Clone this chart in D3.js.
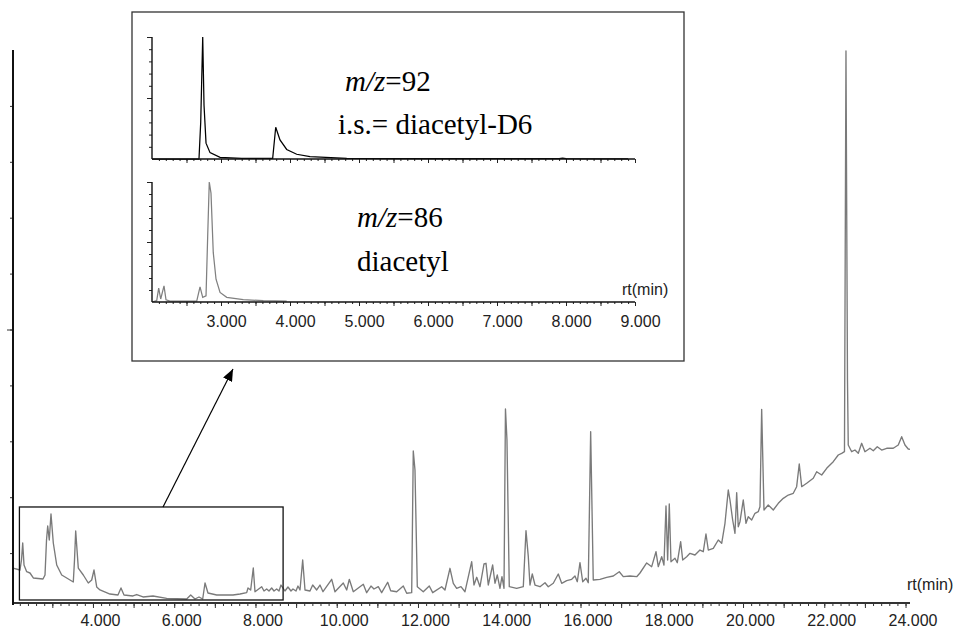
<!DOCTYPE html>
<html><head><meta charset="utf-8">
<script src="https://cdn.jsdelivr.net/npm/d3@7"></script>
<style>body{margin:0;background:#fff}svg{display:block}</style>
</head><body>
<svg id="c" width="954" height="628"></svg>
<script>
// ---- DATA ----
// Total ion chromatogram: [retention time (min), abundance (% of max)]
const mainTrace = [[2.032,7.33],[2.204,6.98],[2.241,8.77],[2.271,11.81],[2.303,7.87],[2.369,6.67],[2.450,6.44],[2.532,5.55],[2.770,5.37],[2.820,6.08],[2.857,12.34],[2.886,14.85],[2.925,12.34],[2.967,16.99],[3.024,11.81],[3.108,7.87],[3.231,6.08],[3.354,5.55],[3.516,4.83],[3.546,8.77],[3.575,13.95],[3.639,7.33],[3.762,6.08],[3.885,4.65],[3.969,5.19],[4.026,6.98],[4.092,3.94],[4.173,3.40],[4.419,2.68],[4.616,2.50],[4.690,3.76],[4.764,2.50],[4.985,2.33],[5.077,2.59],[5.232,2.15],[5.478,2.33],[5.815,1.91],[6.307,1.79],[6.406,2.50],[6.511,1.79],[6.610,2.15],[6.701,1.79],[6.758,4.65],[6.831,2.86],[7.046,2.50],[7.447,2.50],[7.619,2.68],[7.784,2.92],[7.816,3.76],[7.882,3.40],[7.946,7.33],[7.988,3.09],[8.153,3.99],[8.210,3.22],[8.276,3.58],[8.333,3.22],[8.399,3.76],[8.456,3.22],[8.522,3.58],[8.579,3.22],[8.628,4.29],[8.726,3.22],[8.800,3.94],[8.874,3.22],[8.923,3.58],[8.997,3.22],[9.046,4.11],[9.096,3.40],[9.162,8.77],[9.219,3.40],[9.342,3.22],[9.408,4.29],[9.507,3.40],[9.588,4.29],[9.662,3.09],[9.876,5.31],[9.957,3.09],[10.161,4.65],[10.245,3.40],[10.309,5.31],[10.408,3.09],[10.654,4.42],[10.737,2.92],[10.843,4.11],[10.917,3.58],[11.023,3.99],[11.106,2.92],[11.254,4.78],[11.328,3.27],[11.476,3.09],[11.638,4.11],[11.722,2.81],[11.845,2.92],[11.884,28.26],[11.926,24.87],[11.983,3.99],[12.130,3.09],[12.278,4.11],[12.362,2.92],[12.583,3.99],[12.664,3.40],[12.787,7.28],[12.869,4.60],[12.952,3.70],[13.058,3.99],[13.157,3.09],[13.322,8.46],[13.378,4.29],[13.445,5.67],[13.526,3.99],[13.624,8.05],[13.674,8.18],[13.730,4.29],[13.838,7.87],[13.895,4.60],[13.952,6.08],[14.018,3.70],[14.067,5.78],[14.117,3.70],[14.153,35.78],[14.190,30.23],[14.247,3.99],[14.429,3.70],[14.592,3.99],[14.658,14.01],[14.715,9.36],[14.756,4.29],[14.813,6.26],[14.880,4.29],[15.003,3.99],[15.126,4.70],[15.207,3.99],[15.330,4.60],[15.453,6.26],[15.537,4.60],[15.660,5.06],[15.783,5.31],[15.864,5.90],[15.921,4.88],[15.987,8.28],[16.054,4.88],[16.135,5.49],[16.191,4.70],[16.250,31.72],[16.314,5.19],[16.479,5.31],[16.644,5.67],[16.807,5.90],[16.954,6.67],[17.053,5.78],[17.218,5.90],[17.383,5.78],[17.464,6.44],[17.629,8.23],[17.752,7.57],[17.858,10.25],[17.914,7.57],[17.998,9.36],[18.054,7.87],[18.104,18.43],[18.145,8.77],[18.185,18.78],[18.227,8.46],[18.325,9.07],[18.382,8.28],[18.465,12.04],[18.515,8.77],[18.613,9.36],[18.694,9.96],[18.817,9.66],[18.940,10.55],[19.022,10.25],[19.088,13.42],[19.145,10.55],[19.268,10.86],[19.391,12.34],[19.475,11.75],[19.556,15.33],[19.637,21.29],[19.679,19.50],[19.745,15.92],[19.802,13.54],[19.844,20.80],[19.883,14.72],[19.925,15.62],[20.006,19.50],[20.073,15.33],[20.129,16.51],[20.213,15.92],[20.294,17.12],[20.375,17.41],[20.417,18.30],[20.459,35.72],[20.516,17.71],[20.621,18.60],[20.745,17.71],[20.868,18.91],[20.991,19.80],[21.114,20.39],[21.237,20.70],[21.320,21.88],[21.384,25.94],[21.444,21.88],[21.567,22.49],[21.729,23.38],[21.813,24.56],[21.936,23.97],[22.059,25.17],[22.221,26.35],[22.344,27.55],[22.428,27.85],[22.497,28.14],[22.534,99.82],[22.571,40.97],[22.590,29.34],[22.674,28.14],[22.755,28.44],[22.837,27.85],[22.920,29.64],[23.001,28.14],[23.124,28.75],[23.206,28.32],[23.304,29.03],[23.412,28.44],[23.536,28.75],[23.698,28.75],[23.821,29.34],[23.905,30.82],[23.986,29.34],[24.067,28.62],[24.109,28.57]];

// Inset: m/z 92 (i.s. diacetyl-D6), [rt (min), relative abundance %]
const traceMz92 = [[2.000,0],[2.681,0],[2.706,30],[2.735,100],[2.754,44],[2.783,13],[2.841,5.2],[2.986,1.3],[3.300,0.5],[3.749,0.5],[3.793,26],[3.855,15.6],[3.952,7.8],[4.097,3.9],[4.290,1.9],[4.822,0.6],[6.000,0.3],[7.900,0.4],[7.950,0.8],[8.000,0.3],[8.900,0.2]];
// Inset: m/z 86 (diacetyl)
const traceMz86 = [[2.010,0.2],[2.068,1.1],[2.097,11.6],[2.126,2.5],[2.174,13.5],[2.203,1.9],[2.261,0.8],[2.648,0.8],[2.696,12.6],[2.735,3.9],[2.783,5.2],[2.807,54.8],[2.830,100],[2.855,90.7],[2.888,41.1],[2.928,19.0],[2.986,8.0],[3.083,3.9],[3.323,1.9],[3.613,1.1],[3.952,0.8]];

const mainXLabels = [4,6,8,10,12,14,16,18,20,22,24];
const insetXLabels = [3,4,5,6,7,8,9];
const zoomTimes = [2.19, 8.68];     // region magnified in the inset
const zoomAbund = [1.61, 18.25];
const axisTitle = "rt(min)";
const topLabels = ["=92", "i.s.= diacetyl-D6"];
const botLabels = ["=86", "diacetyl"];

// ---- DRAW ----
const svg = d3.select("#c");
const sans = "'Liberation Sans', Arial, sans-serif";
const serif = "'Liberation Serif', 'Times New Roman', serif";

// main scales
const x = d3.scaleLinear().domain([2, 24.1]).range([11.7, 909.6]);
const y = d3.scaleLinear().domain([0, 100]).range([609, 50]);
const axisY = 603;

// main trace
svg.append("path").datum(mainTrace)
  .attr("d", d3.line().x(d => x(d[0])).y(d => y(d[1])))
  .attr("fill", "none").attr("stroke", "#7a7a7a").attr("stroke-width", 1.35)
  .attr("stroke-linejoin", "round");

// main x axis
const minorT = d3.range(11, 121).map(i => i / 5).filter(v => v <= 24.01);
const majorT = d3.range(3, 25);
const gx = svg.append("g").attr("transform", `translate(0,${axisY})`);
gx.call(d3.axisBottom(x).tickValues(minorT).tickSize(3).tickSizeOuter(0).tickFormat(""));
gx.select(".domain").remove();
const gx2 = svg.append("g").attr("transform", `translate(0,${axisY})`);
gx2.call(d3.axisBottom(x).tickValues(majorT).tickSize(5).tickSizeOuter(0).tickFormat(""));
gx2.select(".domain").remove();
svg.selectAll("g .tick line").attr("stroke", "#333");
svg.append("line").attr("x1", 13).attr("x2", 910).attr("y1", axisY).attr("y2", axisY)
  .attr("stroke", "#333").attr("stroke-width", 1.8);
const gxl = svg.append("g").attr("transform", `translate(0,${axisY})`);
gxl.call(d3.axisBottom(x).tickValues(mainXLabels).tickSize(0).tickFormat(d3.format(".3f")));
gxl.select(".domain").remove();
gxl.selectAll("text").attr("dx", 7).attr("y", 23).attr("dy", 0)
  .attr("font-family", sans).attr("font-size", 16).attr("fill", "#222");
svg.append("text").attr("x", 907).attr("y", 590).text(axisTitle)
  .attr("font-family", sans).attr("font-size", 16).attr("fill", "#222");

// main y axis
const gy = svg.append("g").attr("transform", "translate(13,0)");
gy.call(d3.axisLeft(y).tickValues(d3.range(10, 100, 10)).tickSize(3).tickFormat(""));
gy.select(".domain").remove();
const gy2 = svg.append("g").attr("transform", "translate(13,0)");
gy2.call(d3.axisLeft(y).tickValues([50]).tickSize(6).tickFormat(""));
gy2.select(".domain").remove();
svg.selectAll("g .tick line").attr("stroke", "#333");
svg.append("line").attr("x1", 13).attr("x2", 13).attr("y1", y(100)).attr("y2", axisY + 2)
  .attr("stroke", "#111").attr("stroke-width", 2);

// zoom window rectangle
svg.append("rect")
  .attr("x", x(zoomTimes[0])).attr("y", y(zoomAbund[1]))
  .attr("width", x(zoomTimes[1]) - x(zoomTimes[0]))
  .attr("height", y(zoomAbund[0]) - y(zoomAbund[1]))
  .attr("fill", "none").attr("stroke", "#111").attr("stroke-width", 1.3);

// arrow
svg.append("defs").append("marker").attr("id", "ah")
  .attr("viewBox", "0 0 12 10").attr("refX", 12).attr("refY", 5)
  .attr("markerWidth", 12).attr("markerHeight", 10).attr("markerUnits", "userSpaceOnUse")
  .attr("orient", "auto")
  .append("path").attr("d", "M0,0 L12,5 L0,10 z").attr("fill", "#000");
svg.append("line").attr("x1", 163).attr("y1", 507).attr("x2", 233).attr("y2", 369)
  .attr("stroke", "#000").attr("stroke-width", 1.2).attr("marker-end", "url(#ah)");

// inset frame
svg.append("rect").attr("x", 132).attr("y", 12).attr("width", 552).attr("height", 349)
  .attr("fill", "#fff").attr("stroke", "#333").attr("stroke-width", 1.3);

const ix = d3.scaleLinear().domain([2, 9]).range([152, 635]);
const iyTop = d3.scaleLinear().domain([0, 100]).range([159, 37]);
const iyBot = d3.scaleLinear().domain([0, 100]).range([302, 182]);

function panel(iy, data, color, showLabels) {
  const base = iy(0);
  const g = svg.append("g");
  const minor = d3.range(21, 91).map(i => i / 10);
  const major = d3.range(5, 19).map(i => i / 2);
  const a1 = g.append("g").attr("transform", `translate(0,${base})`)
    .call(d3.axisBottom(ix).tickValues(minor).tickSize(2).tickSizeOuter(0).tickFormat(""));
  a1.select(".domain").remove();
  const a2 = g.append("g").attr("transform", `translate(0,${base})`)
    .call(d3.axisBottom(ix).tickValues(major).tickSize(4).tickSizeOuter(0).tickFormat(""));
  a2.select(".domain").remove();
  const b1 = g.append("g").attr("transform", `translate(${ix(2)},0)`)
    .call(d3.axisLeft(iy).tickValues(d3.range(10, 101, 10)).tickSize(3).tickFormat(""));
  b1.select(".domain").remove();
  const b2 = g.append("g").attr("transform", `translate(${ix(2)},0)`)
    .call(d3.axisLeft(iy).tickValues([50, 100]).tickSize(5).tickFormat(""));
  b2.select(".domain").remove();
  g.selectAll(".tick line").attr("stroke", "#222");
  g.append("path").datum(data)
    .attr("d", d3.line().x(d => ix(d[0])).y(d => iy(d[1])))
    .attr("fill", "none").attr("stroke", color).attr("stroke-width", 1.25);
  g.append("line").attr("x1", ix(2)).attr("x2", ix(9)).attr("y1", base).attr("y2", base)
    .attr("stroke", "#111").attr("stroke-width", 1.4);
  g.append("line").attr("x1", ix(2)).attr("x2", ix(2)).attr("y1", iy(100)).attr("y2", base)
    .attr("stroke", "#111").attr("stroke-width", 1.4);
  if (showLabels) {
    const l = g.append("g").attr("transform", `translate(0,${base})`)
      .call(d3.axisBottom(ix).tickValues(insetXLabels).tickSize(0).tickFormat(d3.format(".3f")));
    l.select(".domain").remove();
    l.selectAll("text").attr("dx", 5).attr("y", 25).attr("dy", 0)
      .attr("font-family", sans).attr("font-size", 16).attr("fill", "#222");
  }
}
panel(iyTop, traceMz92, "#000", false);
panel(iyBot, traceMz86, "#808080", true);

svg.append("text").attr("x", 622).attr("y", 295).text(axisTitle)
  .attr("font-family", sans).attr("font-size", 16).attr("fill", "#222");

function mzLabel(xp, yp, rest) {
  const t = svg.append("text").attr("x", xp).attr("y", yp)
    .attr("font-family", serif).attr("font-size", 29).attr("fill", "#000");
  t.append("tspan").attr("font-style", "italic").text("m/z");
  t.append("tspan").text(rest);
}
mzLabel(345, 91, topLabels[0]);
svg.append("text").attr("x", 338).attr("y", 134).text(topLabels[1])
  .attr("font-family", serif).attr("font-size", 29).attr("fill", "#000");
mzLabel(357, 227, botLabels[0]);
svg.append("text").attr("x", 357).attr("y", 271).text(botLabels[1])
  .attr("font-family", serif).attr("font-size", 29).attr("fill", "#000");
</script>
</body></html>
